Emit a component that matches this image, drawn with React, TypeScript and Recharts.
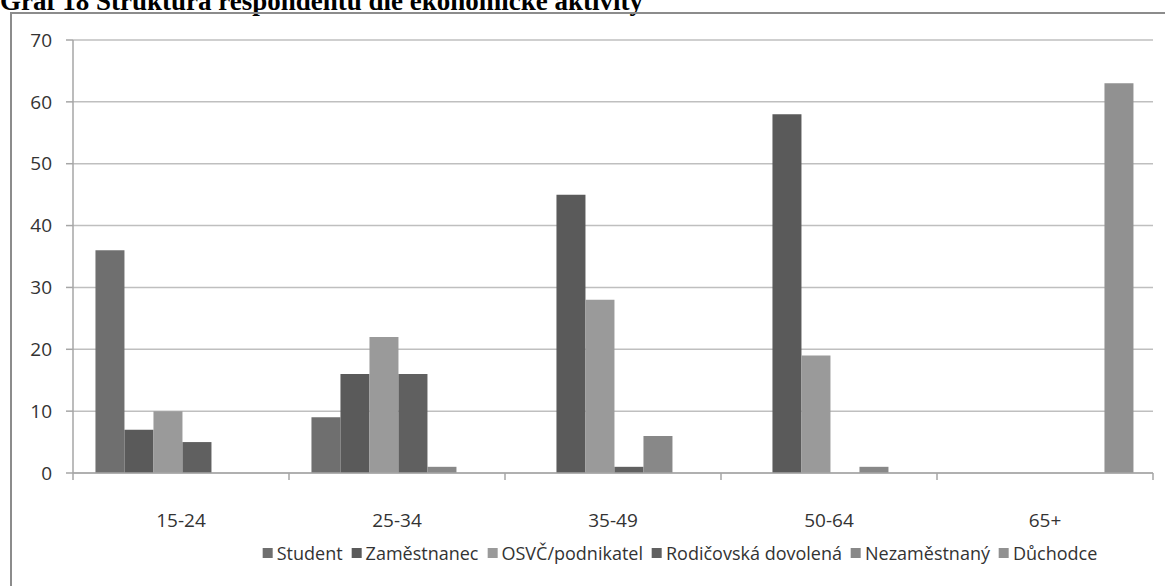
import React from 'react';
import { BarChart, Bar, XAxis, YAxis, CartesianGrid } from 'recharts';

const categories = ['15-24', '25-34', '35-49', '50-64', '65+'];
const student = [36, 9, 0, 0, 0];
const zamestnanec = [7, 16, 45, 58, 0];
const osvc = [10, 22, 28, 19, 0];
const rodicovska = [5, 16, 1, 0, 0];
const nezamestnany = [0, 1, 6, 1, 0];
const duchodce = [0, 0, 0, 0, 63];
const seriesNames = ['Student', 'Zaměstnanec', 'OSVČ/podnikatel', 'Rodičovská dovolená', 'Nezaměstnaný', 'Důchodce'];
const seriesKeys = ['s0', 's1', 's2', 's3', 's4', 's5'];
const seriesColors = ['#6f6f6f', '#5a5a5a', '#9a9a9a', '#606060', '#888888', '#919191'];
const yTicks = [0, 10, 20, 30, 40, 50, 60, 70];
const titleText = 'Graf 18 Struktura respondentů dle ekonomické aktivity';

const seriesValues = [student, zamestnanec, osvc, rodicovska, nezamestnany, duchodce];
const data = categories.map((c, i) => {
  const row: any = { name: c };
  seriesKeys.forEach((k, j) => {
    row[k] = seriesValues[j][i];
  });
  return row;
});

const FONT = '"Open Sans", sans-serif';

const XTick = (props: any) => {
  const { x, y, payload, index } = props;
  const half = payload && payload.offset ? payload.offset : 0;
  return (
    <g>
      <line x1={x - half} x2={x - half} y1={y} y2={y + 7} stroke="#a6a6a6" strokeWidth={1.5} />
      {index === categories.length - 1 && (
        <line x1={x + half} x2={x + half} y1={y} y2={y + 7} stroke="#a6a6a6" strokeWidth={1.5} />
      )}
      <text x={x} y={y + 54} textAnchor="middle" fill="#333" fontSize={19} fontFamily={FONT}>
        {payload.value}
      </text>
    </g>
  );
};

export default function App() {
  return (
    <div style={{ position: 'fixed', left: 0, top: 0, width: 1165, height: 586, overflow: 'hidden', background: '#fff' }}>
      <div
        style={{
          position: 'absolute',
          left: 0,
          top: -12,
          fontFamily: '"Liberation Serif", "Times New Roman", serif',
          fontWeight: 'bold',
          fontSize: 27,
          lineHeight: '27px',
          whiteSpace: 'nowrap',
          color: '#000',
        }}
      >
        {titleText}
      </div>
      <div
        style={{
          position: 'absolute',
          left: 10,
          top: 12,
          width: 1200,
          height: 640,
          border: '2px solid #8c8c8c',
          boxSizing: 'border-box',
        }}
      />
      <div style={{ position: 'absolute', left: 0, top: 0 }}>
        <BarChart
          width={1165}
          height={586}
          data={data}
          margin={{ top: 40, right: 12, bottom: 73, left: 0 }}
          barCategoryGap="10.4%"
          barGap={0}
        >
          <CartesianGrid vertical={false} stroke="#bfbfbf" strokeWidth={1.5} />
          <XAxis
            dataKey="name"
            height={40}
            tickSize={0}
            tickMargin={0}
            tickLine={false}
            axisLine={{ stroke: '#a6a6a6', strokeWidth: 1.5 }}
            tick={<XTick />}
            interval={0}
          />
          <YAxis
            width={73}
            domain={[0, 70]}
            ticks={yTicks}
            interval={0}
            tickSize={7}
            tickMargin={14}
            axisLine={{ stroke: '#a6a6a6', strokeWidth: 1.5 }}
            tickLine={{ stroke: '#a6a6a6', strokeWidth: 1.5 }}
            tick={{ fill: '#333', fontSize: 19, fontFamily: FONT }}
          />
          {seriesKeys.map((k, j) => (
            <Bar key={k} dataKey={k} name={seriesNames[j]} fill={seriesColors[j]} isAnimationActive={false} />
          ))}
        </BarChart>
      </div>
      <div
        style={{
          position: 'absolute',
          left: 680,
          top: 541,
          transform: 'translateX(-50%)',
          display: 'flex',
          alignItems: 'center',
          whiteSpace: 'nowrap',
          fontFamily: FONT,
          fontSize: 18,
          color: '#333',
        }}
      >
        {seriesNames.map((n, j) => (
          <div key={n} style={{ display: 'flex', alignItems: 'center', marginRight: j < seriesNames.length - 1 ? 9 : 0 }}>
            <span style={{ display: 'inline-block', width: 10, height: 10, background: seriesColors[j], marginRight: 4 }} />
            <span>{n}</span>
          </div>
        ))}
      </div>
    </div>
  );
}
